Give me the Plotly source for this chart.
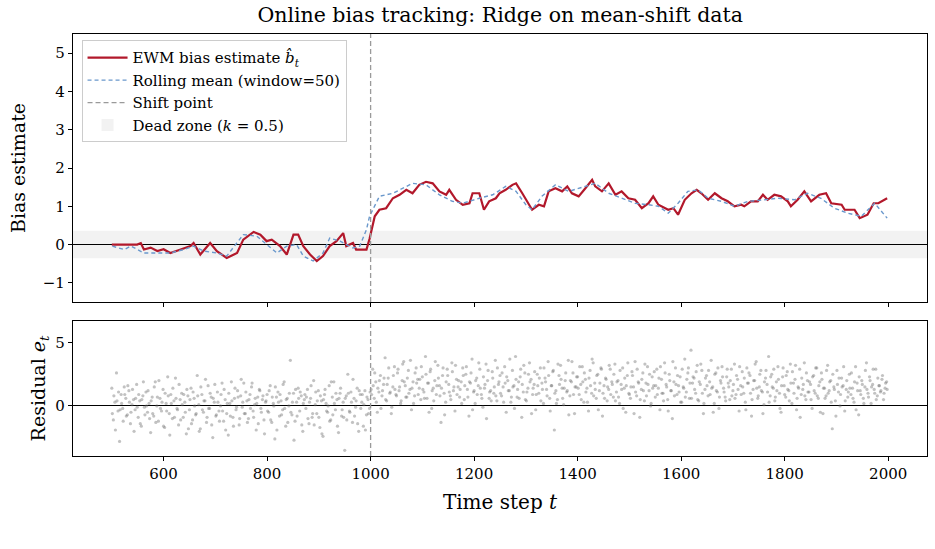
import numpy as np
import plotly.graph_objects as go
from plotly.subplots import make_subplots

# ---------------- data ----------------
ewm_t = [500, 549, 556, 562, 575, 588, 600, 613, 633, 652, 658, 671, 690, 703, 722, 742, 754, 774, 787,
         799, 809, 825, 838, 851, 860, 870, 883, 896, 908, 921, 934, 947, 953, 966, 972, 992, 998,
         1004, 1008, 1017, 1030, 1043, 1056, 1069, 1081, 1094, 1107, 1120, 1133, 1146, 1152, 1165, 1178,
         1191, 1197, 1210, 1219, 1229, 1242, 1249, 1261, 1274, 1281, 1293, 1306, 1312, 1325, 1335, 1344,
         1357, 1370, 1380, 1389, 1402, 1415, 1428, 1434, 1447, 1460, 1473, 1485, 1498, 1511, 1524, 1537,
         1546, 1556, 1575, 1585, 1594, 1607, 1620, 1630, 1639, 1652, 1665, 1678, 1690, 1703, 1716, 1722,
         1735, 1748, 1758, 1767, 1780, 1793, 1806, 1812, 1825, 1838, 1851, 1867, 1880, 1890, 1910, 1916,
         1935, 1945, 1960, 1972, 1981, 1998]
ewm_v = [0.0, 0.0, 0.04, -0.13, -0.08, -0.17, -0.12, -0.22, -0.13, -0.04, 0.04, -0.26, 0.04, -0.17, -0.35,
         -0.22, 0.13, 0.33, 0.26, 0.09, 0.13, -0.04, -0.26, 0.26, 0.26, -0.04, -0.26, -0.43, -0.30, -0.04,
         0.09, 0.30, -0.04, 0.04, -0.13, -0.13, 0.15,
         0.56, 0.74, 0.91, 0.95, 1.21, 1.30, 1.43, 1.34, 1.56, 1.64, 1.60, 1.39, 1.30, 1.43, 1.17, 1.04,
         1.08, 1.34, 1.34, 0.91, 1.13, 1.21, 1.34, 1.43, 1.56, 1.60, 1.34, 1.04, 0.91, 1.04, 1.00, 1.39,
         1.47, 1.39, 1.52, 1.34, 1.26, 1.47, 1.69, 1.52, 1.39, 1.60, 1.30, 1.39, 1.21, 1.17, 0.95, 1.08,
         1.26, 1.04, 0.91, 0.95, 0.78, 1.17, 1.34, 1.43, 1.34, 1.17, 1.34, 1.21, 1.13, 1.00, 1.04, 1.00,
         1.13, 1.13, 1.30, 1.17, 1.30, 1.26, 1.13, 1.00, 1.17, 1.39, 1.13, 1.30, 1.34, 1.08, 1.04, 0.91,
         0.91, 0.69, 0.78, 1.08, 1.08, 1.21]

roll_t = [501, 524, 537, 562, 588, 613, 639, 658, 678, 703, 722, 742, 754, 780, 799, 819, 838, 857, 870,
          889, 908, 921, 941, 966, 979, 992, 998, 1004, 1017, 1043, 1062, 1081, 1107, 1133, 1158, 1178,
          1210, 1236, 1261, 1281, 1300, 1312, 1331, 1357, 1383, 1415, 1434, 1460, 1485, 1511, 1537, 1556,
          1575, 1594, 1613, 1633, 1652, 1678, 1703, 1729, 1761, 1787, 1819, 1844, 1870, 1896, 1922, 1948,
          1974, 1998]
roll_v = [-0.04, -0.13, -0.04, -0.22, -0.22, -0.22, -0.13, -0.04, -0.17, -0.22, -0.30, 0.04, 0.26, 0.22,
          0.00, -0.22, -0.04, 0.00, -0.30, -0.43, -0.22, 0.17, 0.09, -0.09, -0.04, 0.39, 0.74, 0.91, 1.26,
          1.34, 1.47, 1.60, 1.56, 1.30, 1.13, 1.08, 1.21, 1.30, 1.52, 1.39, 1.04, 0.91, 1.26, 1.56, 1.39,
          1.52, 1.60, 1.34, 1.21, 1.08, 1.04, 1.00, 0.82, 1.08, 1.39, 1.43, 1.21, 1.13, 1.00, 1.13, 1.17,
          1.21, 1.17, 1.34, 1.21, 0.95, 0.82, 0.74, 1.08, 0.69]

resid_t_a = list(range(500, 2000, 3))
resid_v_a = [
    1.4, -1.1, 0.3, 2.6, -0.4, -2.8, 0.9, -0.2, 1.5, 0.6, -0.7, 1.2, -1.4, 0.1, 0.5, -0.3, 1.7, -0.9, 0.4, -1.6, 0.8, -0.1, 1.1, -0.5, 0.2,
    -2.1, 0.7, -0.8, 1.9, 0.0, -1.2, 0.6, -0.4, 1.3, -1.7, 0.2, 2.3, -0.6, 0.9, -1.0, 0.4, 2.2, -0.2, -1.5, 0.5, 1.0, -0.9, 0.3, -2.2, 0.8,
    -0.3, 1.4, -1.1, 0.6, -0.7, 2.4, 0.1, -1.8, 0.9, -0.5, 0.4, -1.3, 1.6, -0.2, 0.7, -2.5, 0.3, -0.8, 1.1, -0.4, 0.0, 1.8, -1.2, 0.5, -0.6,
    -2.3, 0.2, 1.9, -0.9, 0.6, -0.3, 1.2, -1.5, 0.8, -0.1, 1.8, -0.6, 0.4, -1.0, 0.9, 1.5, -0.4, 0.1, -1.9, 0.7, 1.3, -0.2, 0.5, -1.1, 0.3,
    0.9, -0.5, 1.6, -1.3, 0.2, -2.6, 0.7, 1.1, -0.8, 0.4, -0.3, 1.9, -1.6, 0.6, 0.0, 3.6, -0.7, 1.0, -1.2, 0.3, 1.4, -0.4, 0.8, -2.0, 0.5,
    -0.2, 1.3, -1.4, 0.6, -0.9, 2.0, 0.1, -0.6, 1.2, -1.7, 0.4, -2.4, 0.9, 0.2, -0.5, 1.6, -1.1, 0.7, 1.9, -0.3, 0.5, -2.1, 1.0, -0.8, 0.3,
    -3.5, 0.8, 2.5, -0.4, 1.1, -1.3, 0.6, -0.1, 1.4, -2.0, 0.9, 0.3, -1.6, 1.2, -0.7, 0.5, -0.2, 1.3, 2.9, 0.6, 1.9, -0.5, 1.1, 2.4, 0.8,
    1.7, 3.8, 0.4, 2.2, 1.0, -0.6, 1.5, 3.1, 0.9, 2.6, 1.2, 0.2, 2.0, 3.5, 1.6, 0.7, 2.8, 1.3, -0.3, 1.9, 0.8, 3.0, 2.1, 1.4, 0.5,
    2.3, 1.1, 3.9, 0.6, 1.8, 2.7, -0.2, 1.4, 2.0, 0.9, 3.2, 1.6, -1.3, 2.4, 1.0, 0.3, 2.9, 1.7, 0.8, 3.4, 1.2, -0.4, 2.1, 1.5, 0.7,
    1.9, 3.0, 0.5, 2.5, 1.3, -0.8, 1.8, 3.7, 1.1, 0.2, 2.2, 1.6, 2.9, 0.9, -0.1, 1.4, 3.3, 2.0, 0.6, 1.2, 2.7, 1.0, 3.6, 0.4, 1.7,
    2.4, 0.8, 1.5, 3.1, -0.5, 2.0, 1.2, 0.3, 2.8, 1.6, 3.9, 0.7, 1.9, 2.3, -0.9, 1.1, 2.6, 0.4, 1.4, 3.4, 2.1, 0.9, 1.7, -0.3, 2.5,
    1.0, 3.0, 1.8, 0.2, 2.2, 1.3, 3.5, 0.6, 1.6, 2.7, -1.9, 1.2, 0.5, 2.4, 3.2, 1.4, 0.1, 2.0, 1.1, 3.6, 0.8, 1.9, 2.6, -0.6, 1.5,
    2.3, 0.9, 1.7, 3.1, 0.3, 2.1, 1.4, -0.4, 2.8, 1.0, 3.4, 1.8, 0.6, 2.5, 1.2, 3.0, -0.8, 1.6, 2.2, 0.4, 1.3, 2.9, 1.9, 0.7, 3.3,
    1.1, 2.0, 0.2, 1.7, 3.0, 1.4, -0.5, 2.4, 1.0, 0.6, 2.7, 1.5, 3.5, 0.8, 1.9, -0.9, 1.3, 2.6, 0.4, 1.8, 3.1, 1.2, 0.0, 2.3, 1.6,
    0.7, 2.9, 1.4, -0.3, 2.1, 1.0, 3.4, 1.7, 0.5, 2.5, 1.2, -1.0, 1.9, 3.0, 0.9, 1.6, 2.3, 0.3, 1.5, 3.7, 1.1, 2.6, 0.6, 4.4, 1.8,
    2.2, 1.0, 3.2, 0.4, 1.7, 2.8, -0.6, 1.3, 2.4, 0.8, 1.9, 3.6, 1.5, 0.2, 2.6, 1.1, -0.2, 2.0, 3.1, 1.4, 0.7, 2.3, 1.8, 0.5, 2.9,
    1.2, 3.3, 0.9, 2.1, -0.4, 1.6, 2.7, 1.0, 0.3, 3.0, 1.8, 2.4, -0.8, 1.3, 2.0, 3.5, 0.6, 1.5, 2.8, 1.1, 0.1, 2.2, 1.7, 3.9, 0.8,
    2.5, 1.4, 0.4, 1.9, 3.1, 1.0, -0.5, 2.3, 1.6, 0.7, 2.7, 1.2, 3.3, 0.2, 1.8, 2.1, -0.3, 1.5, 2.9, 0.9, 1.3, 3.4, 0.5, 2.0, 1.1,
    1.7, -0.2, 2.4, 1.0, 3.0, 0.6, 1.9, 2.6, -0.6, 1.4, 0.8, 3.2, 1.2, 2.0, -1.8, 1.5, 0.4, 2.8, 1.1, 0.0, 2.2, 1.6, -0.4, 1.3, 0.7,
    2.5, 0.9, 1.4, 0.3, 3.1, 1.8, -0.7, 1.2, 2.0, 0.6, 1.5, 3.4, 1.0, 2.3, 0.2, 1.7, 1.3, 2.9, 0.8, 1.6, 1.1, 2.1, 0.5, 1.4, 1.9,
]

resid_t_b = list(range(501, 2000, 3))
resid_v_b = [
    -0.6, 0.8, -1.9, 0.4, 1.1, -0.3, 0.2, -1.2, 0.9, -0.8, 1.6, 0.3, -0.5, 1.3, -2.0, 0.6, -0.1, 0.9, -1.4, 0.5, 1.9, -0.7, 0.0, 1.2, -1.0,
    0.4, -0.6, 1.5, -1.3, 0.7, 2.0, -0.2, 0.3, -1.6, 1.0, -0.4, 0.8, -2.3, 0.2, 1.4, -0.9, 0.6, -0.3, 1.7, -1.1, 0.1, 0.9, -0.5, 1.3, -1.8,
    0.5, -1.4, 1.1, 0.0, -0.6, 0.8, -2.0, 1.5, -0.3, 0.4, 2.1, -0.9, -0.2, 1.0, -1.5, 0.6, 1.7, -0.7, 0.3, -1.2, 0.9, -0.4, 1.3, -1.9, 0.2,
    1.0, -0.8, 0.4, -1.6, 1.4, -0.1, 0.7, -1.0, 2.1, 0.3, -0.6, 1.1, -1.3, 0.5, -0.2, 1.8, -0.9, 0.6, 0.2, -1.4, 1.2, -0.5, 0.8, -2.2, 0.4,
    -0.4, 1.2, -1.1, 0.7, 0.0, 1.5, -1.9, 0.3, 0.9, -0.7, 1.7, -0.2, 0.5, -1.3, 1.0, -0.5, 0.3, -2.7, 1.3, -0.8, 0.6, 1.1, -1.5, 0.2, 0.9,
    0.7, -1.0, 0.3, 1.6, -0.6, -1.5, 1.1, 0.4, -0.9, 0.8, -2.2, 0.5, 1.3, -0.4, 0.0, -1.2, 1.9, -0.7, 0.2, 1.0, -1.6, 0.6, 1.4, -0.3, -0.9,
    0.6, -1.1, 1.0, -0.5, 0.3, 2.1, -0.8, 0.4, -1.4, 1.2, -0.2, 0.9, 0.1, -1.9, 0.7, -0.6, 1.1, 0.9, 1.6, 2.6, 0.3, 1.4, 2.0, -0.2, 1.2,
    2.2, 0.5, 1.7, 3.0, 1.1, -0.1, 2.4, 1.3, 0.8, 2.9, 1.5, 0.4, 3.3, 1.9, 0.7, 2.2, 1.0, 3.6, 1.4, 0.2, 2.6, 1.8, 0.9, 2.1, 3.1,
    1.3, 0.6, 2.5, 1.8, -0.5, 2.9, 1.2, 0.4, 3.5, 1.6, 2.2, 0.8, 1.4, 3.0, -0.7, 1.9, 2.4, 1.1, 0.5, 2.7, 1.5, 3.2, 0.9, 2.0, 1.3,
    0.2, 2.4, 1.6, 3.1, 0.7, 1.9, 2.6, -0.3, 1.2, 2.0, 0.9, 3.4, 1.4, 0.6, 2.3, 1.7, -1.0, 2.8, 1.1, 0.4, 2.2, 1.5, 0.8, 3.0, 1.9,
    1.0, 2.6, 0.3, 1.8, 2.3, 1.2, 3.7, 0.7, 1.5, -0.2, 2.1, 1.3, 0.6, 2.9, 1.7, 3.2, 0.5, 1.1, 2.5, 1.9, -0.6, 1.4, 2.7, 0.9, 1.6,
    2.2, 0.4, 1.3, 3.0, 1.9, 0.8, 2.4, -0.4, 1.6, 2.8, 1.0, 0.2, 3.3, 1.7, 2.1, 0.6, 1.4, 2.6, 1.2, -0.7, 2.0, 3.5, 0.9, 1.5, 2.3,
    1.4, 3.1, 0.5, 1.9, 2.6, 1.1, 0.3, 2.2, 1.6, 3.7, 0.8, 1.3, 2.4, -0.3, 1.8, 2.9, 1.0, 0.6, 2.1, 1.5, 3.2, 0.9, 1.7, 2.5, 0.4,
    1.9, 0.7, 2.8, 1.3, -0.2, 2.2, 1.6, 3.4, 0.9, 1.5, 2.4, -0.6, 1.1, 2.9, 1.8, 0.5, 2.1, 1.2, 3.3, 0.8, 1.7, 2.5, 0.2, 1.4, 2.7,
    1.6, 0.9, 2.2, 3.1, 1.0, 0.4, 2.6, 1.5, -0.4, 2.0, 1.2, 3.5, 0.8, 1.7, 2.4, 1.1, 0.3, 2.9, 1.4, 0.7, 2.1, 3.0, 1.8, 0.6, 2.3,
    1.3, 2.7, 0.5, 1.9, 3.3, 1.0, 0.2, 2.2, 1.6, 2.8, 0.9, 1.4, -0.5, 2.5, 1.2, 3.0, 0.7, 1.8, 2.3, 1.1, 0.4, 2.9, 1.5, 2.0, 0.8,
    1.7, 0.6, 2.4, 1.3, 3.1, 0.9, 1.5, 2.2, -0.3, 1.8, 2.6, 1.0, 0.5, 2.0, 3.3, 1.4, 0.8, 2.5, 1.2, -0.6, 1.9, 2.8, 1.1, 0.3, 2.3,
    1.5, 2.9, 0.7, 1.2, 2.1, -0.2, 1.6, 3.0, 0.9, 2.4, 1.3, 0.4, 1.8, 2.7, 1.0, 3.2, 0.6, 1.4, -0.9, 2.2, 1.7, 0.8, 2.6, 1.1, 1.9,
    0.5, 2.3, 1.2, 3.0, 0.8, 1.6, -0.5, 2.1, 1.4, 0.6, 2.8, 1.0, 1.9, 0.3, 2.5, 1.3, -0.8, 1.7, 2.2, 0.9, 1.5, 3.1, 0.4, 2.0, 1.1,
    1.4, 2.6, 0.6, 1.9, -0.3, 1.2, 2.3, 0.9, 1.7, 0.2, 2.8, 1.3, 0.7, 2.0, 1.5, 2.9, 1.0, 0.5, 2.2, 1.6, 1.2, 2.4, 1.0, 1.8, 1.3,
]

shift_point = 1000
dead_zone_half = 0.36
x_ticks = [600, 800, 1000, 1200, 1400, 1600, 1800, 2000]
top_y_ticks = [-1, 0, 1, 2, 3, 4, 5]
bot_y_ticks = [-5, 0, 5]

# ---------------- figure ----------------
FONT = "DejaVu Serif"
RED = "#b2182b"
BLUE = "#6a98cc"

fig = make_subplots(rows=2, cols=1, shared_xaxes=True, row_heights=[268, 135], vertical_spacing=0.045)

fig.add_trace(go.Scatter(x=ewm_t, y=ewm_v, mode="lines", line=dict(color=RED, width=2.2),
                         name="EWM bias estimate <i>b̂</i><sub><i>t</i></sub>", legendrank=1), row=1, col=1)
fig.add_trace(go.Scatter(x=roll_t, y=roll_v, mode="lines", line=dict(color=BLUE, width=1.4, dash="4px,3px"),
                         name="Rolling mean (window=50)", legendrank=2), row=1, col=1)
fig.add_trace(go.Scatter(x=resid_t_a + resid_t_b, y=resid_v_a + resid_v_b, mode="markers", showlegend=False,
                         marker=dict(color="rgba(110,110,110,0.42)", size=3.2, line=dict(width=0))),
              row=2, col=1)

# dead zone band
fig.add_shape(type="rect", xref="x domain", yref="y", x0=0, x1=1, y0=-dead_zone_half, y1=dead_zone_half,
              fillcolor="#f2f2f2", line=dict(width=0), layer="below", showlegend=True,
              name="Dead zone (<i>k</i> = 0.5)", legendrank=4)
# shift lines
fig.add_shape(type="line", xref="x", yref="y domain", x0=shift_point, x1=shift_point, y0=0, y1=1,
              line=dict(color="#9a9a9a", width=1.3, dash="5px,3px"), layer="above",
              showlegend=True, name="Shift point", legendrank=3)
fig.add_shape(type="line", xref="x2", yref="y2 domain", x0=shift_point, x1=shift_point, y0=0, y1=1,
              line=dict(color="#9a9a9a", width=1.3, dash="5px,3px"), layer="above")

axis_common = dict(showline=True, linecolor="black", linewidth=1.2, mirror=True, ticks="outside",
                   ticklen=4, tickwidth=1, tickcolor="black", showgrid=False,
                   tickfont=dict(family=FONT, size=15, color="black"))

fig.update_xaxes(range=[425, 2075], tickvals=x_ticks, **axis_common)
fig.update_xaxes(showticklabels=False, row=1, col=1)
fig.update_xaxes(title=dict(text="Time step <i>t</i>", font=dict(family=FONT, size=20, color="black"), standoff=12),
                 row=2, col=1)

fig.update_yaxes(**axis_common)
fig.update_yaxes(range=[-1.5, 5.5], tickvals=top_y_ticks, ticktext=["−1", "0", "1", "2", "3", "4", "5"],
                 zeroline=True, zerolinecolor="black", zerolinewidth=1,
                 title=dict(text="Bias estimate", font=dict(family=FONT, size=19, color="black"), standoff=12),
                 row=1, col=1)
fig.update_yaxes(range=[-3.95, 6.7], tickvals=bot_y_ticks, ticktext=["−5", "0", "5"],
                 zeroline=True, zerolinecolor="black", zerolinewidth=1,
                 title=dict(text="Residual <i>e</i><sub><i>t</i></sub>", font=dict(family=FONT, size=19, color="black"),
                            standoff=4),
                 row=2, col=1)

fig.update_layout(
    width=935, height=549,
    margin=dict(l=73, r=8, t=34, b=93),
    paper_bgcolor="white", plot_bgcolor="white",
    font=dict(family=FONT, size=14, color="black"),
    title=dict(text="Online bias tracking: Ridge on mean-shift data", x=0.535, xanchor="center",
               y=0.973, yanchor="middle", font=dict(family=FONT, size=20.5, color="black")),
    legend=dict(x=0.01, y=0.985, xanchor="left", yanchor="top", bgcolor="rgba(255,255,255,0.85)",
                bordercolor="#cccccc", borderwidth=1, font=dict(family=FONT, size=15, color="black"),
                tracegroupgap=0, itemwidth=40),
    showlegend=True,
)

fig.write_html("out.html")
